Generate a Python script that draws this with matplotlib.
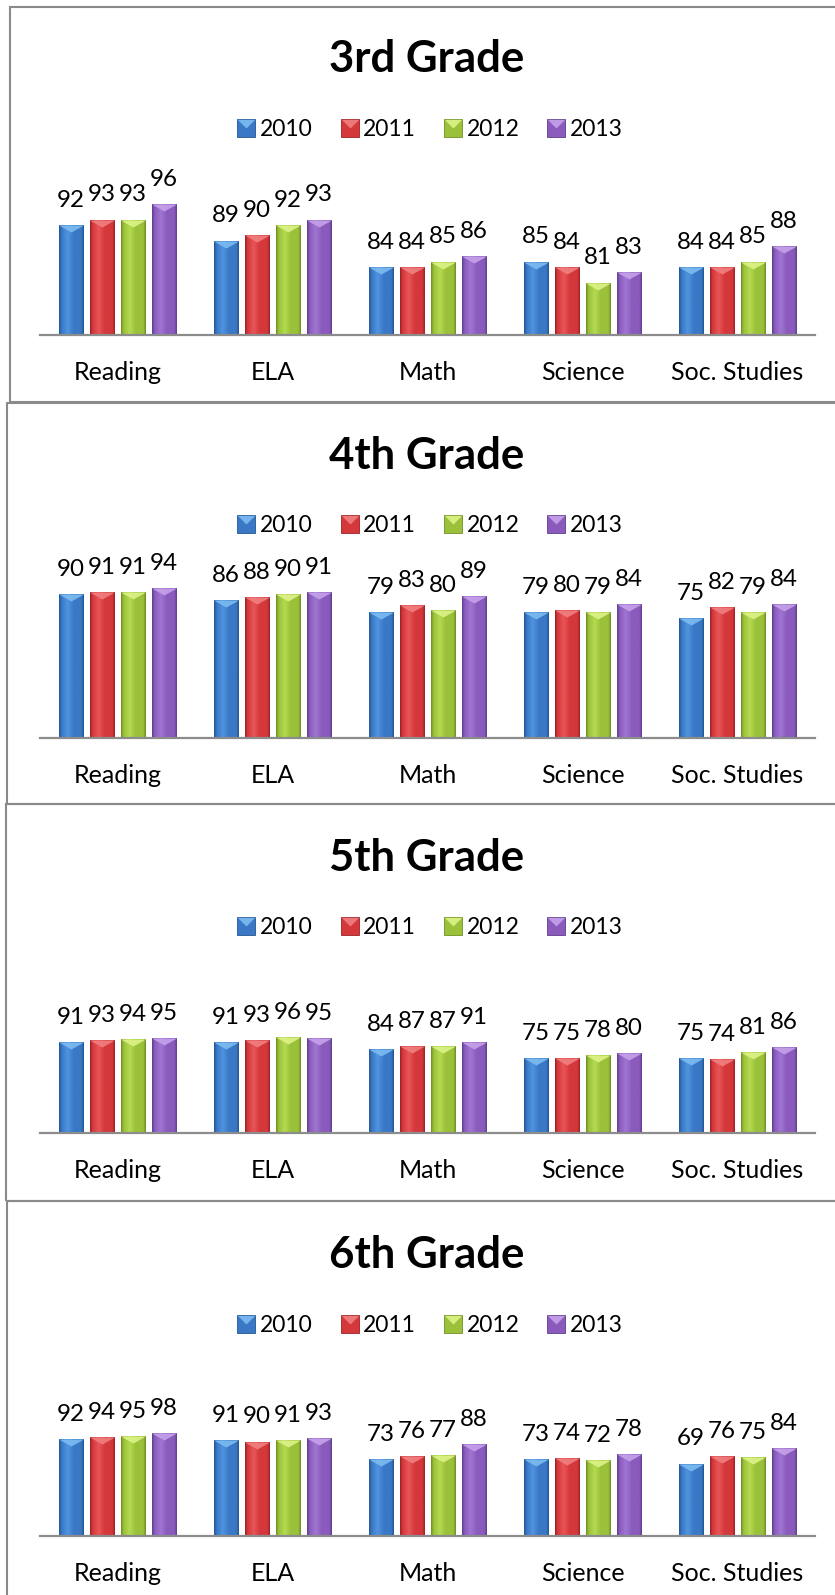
import matplotlib
matplotlib.use("Agg")
import matplotlib.pyplot as plt
import numpy as np
from matplotlib.colors import LinearSegmentedColormap
from matplotlib.lines import Line2D
from matplotlib.legend_handler import HandlerTuple
from matplotlib.patches import Rectangle

plt.rcParams["font.family"] = ["Lato", "DejaVu Sans"]

categories = ["Reading", "ELA", "Math", "Science", "Soc. Studies"]
years = ["2010", "2011", "2012", "2013"]
titles = ["3rd Grade", "4th Grade", "5th Grade", "6th Grade"]

# one row per year, one column per subject
grade3 = [[92, 89, 84, 85, 84],
          [93, 90, 84, 84, 84],
          [93, 92, 85, 81, 85],
          [96, 93, 86, 83, 88]]
grade4 = [[90, 86, 79, 79, 75],
          [91, 88, 83, 80, 82],
          [91, 90, 80, 79, 79],
          [94, 91, 89, 84, 84]]
grade5 = [[91, 91, 84, 75, 75],
          [93, 93, 87, 75, 74],
          [94, 96, 87, 78, 81],
          [95, 95, 91, 80, 86]]
grade6 = [[92, 91, 73, 73, 69],
          [94, 90, 76, 74, 76],
          [95, 91, 77, 72, 75],
          [98, 93, 88, 78, 84]]
grades = [grade3, grade4, grade5, grade6]

# dark edge, base, highlight, top facet
palette = [
    ("#245591", "#3a78c6", "#5094e0", "#7dbcf0"),
    ("#9c2226", "#d4383b", "#e85558", "#f08080"),
    ("#6f8f22", "#9bc13a", "#b4da52", "#ddf288"),
    ("#5e3e8a", "#8a5bbd", "#a076d2", "#c6a2ea"),
]

W, H = 835, 1595
# per panel: frame top/bottom/left, title baseline, legend centre, axis line, px per unit, axis min
layout = [
    dict(frame=(7, 402, 10), title=72, legend=130, base=335, ppu=5.25, ymin=71),
    dict(frame=(403, 804, 7), title=469, legend=526, base=738, ppu=1.6, ymin=0),
    dict(frame=(804, 1201, 6), title=871, legend=928, base=1133, ppu=1.0, ymin=0),
    dict(frame=(1201, 1700, 7), title=1268, legend=1326, base=1536, ppu=1.05, ymin=0),
]
ymax = 100

fig = plt.figure(figsize=(W / 100, H / 100), dpi=100)

top_facet = [(-1, 0), (1, 0), (0, -0.56), (-1, 0)]
legend_facet = [(-1, 1), (1, 1), (0, 0), (-1, 1)]

width = 0.161
step = 0.2
x = np.arange(len(categories))

for g, (data, title, lay) in enumerate(zip(grades, titles, layout)):
    top, bottom, left = lay["frame"]
    fig.add_artist(Rectangle((left / W, 1 - bottom / H), 2.0, (bottom - top) / H,
                             transform=fig.transFigure, fill=False,
                             edgecolor="#8a8a8a", linewidth=1.5))

    height_px = (ymax - lay["ymin"]) * lay["ppu"]
    ax = fig.add_axes([40 / W, 1 - lay["base"] / H, 775 / W, height_px / H])

    for i, (vals, (dark, base, light, facet)) in enumerate(zip(data, palette)):
        xs = x + (i - 1.5) * step
        rects = ax.bar(xs, vals, width, color=base, edgecolor=dark,
                       linewidth=0.6, zorder=1)
        cmap = LinearSegmentedColormap.from_list(
            "bar%d" % i,
            [(0, dark), (0.1, base), (0.35, light), (0.6, base), (0.9, base), (1, dark)])
        grad = cmap(np.linspace(0, 1, 64))[None, :, :3]
        for r in rects:
            im = ax.imshow(grad, extent=[r.get_x(), r.get_x() + r.get_width(),
                                         lay["ymin"], r.get_height()],
                           aspect="auto", interpolation="bilinear", zorder=1.5)
            im.set_clip_path(r)
        ax.plot(xs, vals, linestyle="none", marker=top_facet, markersize=18,
                markerfacecolor=facet, markeredgewidth=0, alpha=0.9, zorder=2,
                clip_on=False)
        for xv, v in zip(xs, vals):
            ax.annotate(str(v), (xv, v), xytext=(0, 13), textcoords="offset points",
                        ha="center", va="baseline", fontsize=17.4, color="black",
                        annotation_clip=False)

    ax.set_xlim(-0.5, len(categories) - 0.5)
    ax.set_ylim(lay["ymin"], ymax)
    ax.set_xticks(x, categories, fontsize=18)
    ax.tick_params(axis="x", length=0, pad=19)
    ax.set_yticks([])
    for side in ["top", "left", "right"]:
        ax.spines[side].set_visible(False)
    ax.spines["bottom"].set_color("#8c8c8c")
    ax.spines["bottom"].set_linewidth(1.6)
    ax.spines["bottom"].set_zorder(3)

    fig.text(427 / W, 1 - lay["title"] / H, title, ha="center", va="baseline",
             fontsize=31.5, fontweight="bold")

    handles = []
    for dark, base, light, facet in palette:
        sq = Line2D([], [], linestyle="none", marker="s", markersize=12.5,
                    markerfacecolor=base, markeredgecolor=dark, markeredgewidth=0.6)
        tri = Line2D([], [], linestyle="none", marker=legend_facet, markersize=12.5,
                     markerfacecolor=facet, markeredgewidth=0, alpha=0.9)
        handles.append((sq, tri))
    fig.legend(handles, years, loc="center", ncol=4, frameon=False,
               bbox_to_anchor=(430 / W, 1 - lay["legend"] / H),
               handler_map={tuple: HandlerTuple(ndivide=1)},
               fontsize=16.5, handlelength=0.8, handletextpad=0.2,
               columnspacing=1.2, borderpad=0)

fig.savefig("out.png", dpi=100)
plt.close(fig)
